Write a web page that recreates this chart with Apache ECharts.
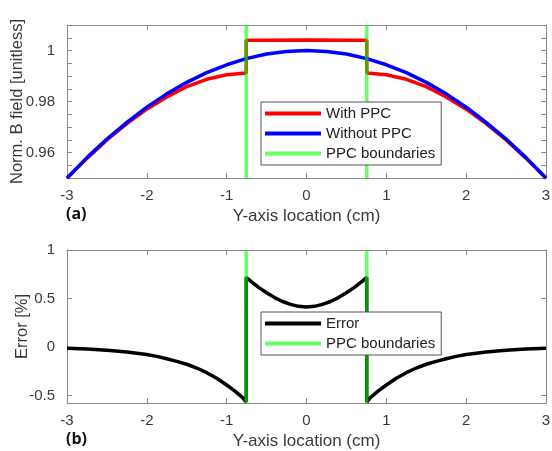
<!DOCTYPE html>
<html>
<head>
<meta charset="utf-8">
<script src="https://cdn.jsdelivr.net/npm/echarts@6/dist/echarts.min.js"></script>
<style>html,body{margin:0;padding:0;background:#fff}#c{width:552px;height:451px}</style>
</head>
<body>
<div id="c"></div>
<script>
// ---- data ----
const boundaryX = [-0.755, 0.755];
const topYRange = [0.95, 1.01];
const botYRange = [-0.575, 1];
const topYTicks = [0.96, 0.98, 1];
const botYTicks = [-0.5, 0, 0.5, 1];
const xTicks = [-3, -2, -1, 0, 1, 2, 3];

const blueX = [-3,-2.75,-2.5,-2.25,-2,-1.75,-1.5,-1.25,-1,-0.755,-0.5,-0.25,0,0.25,0.5,0.755,1,1.25,1.5,1.75,2,2.25,2.5,2.75,3];
const blueY = [0.950,0.958,0.9653,0.9718,0.9778,0.983,0.9875,0.9913,0.9944,0.9968,0.9986,0.9996,1.0,0.9996,0.9986,0.9968,0.9944,0.9913,0.9875,0.983,0.9778,0.9718,0.9653,0.958,0.950];

const redX = [-3,-2.75,-2.5,-2.25,-2,-1.75,-1.5,-1.25,-1,-0.755,-0.755,-0.5,0,0.5,0.755,0.755,1,1.25,1.5,1.75,2,2.25,2.5,2.75,3];
const redY = [0.9499,0.9577,0.9649,0.9713,0.9770,0.9818,0.9858,0.9887,0.9905,0.9912,1.0040,1.0040,1.0041,1.0040,1.0040,0.9912,0.9905,0.9887,0.9858,0.9818,0.9770,0.9713,0.9649,0.9577,0.9499];

const errX = [-3,-2.75,-2.5,-2.25,-2,-1.875,-1.75,-1.625,-1.5,-1.375,-1.25,-1.125,-1,-0.9,-0.8,-0.755,
              -0.755,-0.7,-0.6,-0.5,-0.4,-0.3,-0.2,-0.1,0,0.1,0.2,0.3,0.4,0.5,0.6,0.7,0.755,
              0.755,0.8,0.9,1,1.125,1.25,1.375,1.5,1.625,1.75,1.875,2,2.25,2.5,2.75,3];
const errY = [-0.012,-0.02,-0.032,-0.05,-0.075,-0.095,-0.12,-0.146,-0.176,-0.215,-0.263,-0.32,-0.39,-0.45,-0.52,-0.565,
              0.72,0.68,0.615,0.56,0.51,0.47,0.44,0.42,0.413,0.42,0.44,0.47,0.51,0.56,0.615,0.68,0.72,
              -0.565,-0.52,-0.45,-0.39,-0.32,-0.263,-0.215,-0.176,-0.146,-0.12,-0.095,-0.075,-0.05,-0.032,-0.02,-0.012];

// ---- chart ----
const zip = (xs, ys) => xs.map((x, i) => [x, ys[i]]);
const FONT = 'Liberation Sans';
const AX = '#8a8a8a', TXT = '#3a3a3a';
const GREEN = 'rgba(0,255,0,0.6)';

function xAxes(gi) {
  return [{
    type: 'value', gridIndex: gi, min: -3, max: 3, interval: 1,
    name: 'Y-axis location (cm)', nameLocation: 'middle', nameGap: 30, nameMoveOverlap: false,
    nameTextStyle: {fontFamily: FONT, fontSize: 17, color: TXT},
    axisLine: {onZero: false, lineStyle: {color: AX, width: 1}},
    axisTick: {inside: true, length: 5, lineStyle: {color: AX}},
    axisLabel: {fontFamily: FONT, fontSize: 15, color: TXT, margin: 10},
    splitLine: {show: false}
  }, {
    type: 'value', gridIndex: gi, position: 'top', min: -3, max: 3, interval: 1,
    axisLine: {onZero: false, lineStyle: {color: AX, width: 1}},
    axisTick: {inside: true, length: 5, lineStyle: {color: AX}},
    axisLabel: {show: false}, splitLine: {show: false}
  }];
}
function yAxes(gi, rng, ticks, name, gap, allTicks) {
  const fmt = v => String(+(+v).toFixed(3));
  return [{
    type: 'value', gridIndex: gi, min: rng[0], max: rng[1],
    name: name, nameLocation: 'middle', nameGap: gap, nameMoveOverlap: false,
    nameTextStyle: {fontFamily: FONT, fontSize: 16.5, color: TXT},
    axisLine: {onZero: false, lineStyle: {color: AX, width: 1}},
    axisTick: {inside: true, length: 5, lineStyle: {color: AX}, customValues: allTicks},
    axisLabel: {fontFamily: FONT, fontSize: 15, color: TXT, margin: 12, customValues: ticks, formatter: fmt},
    splitLine: {show: false}
  }, {
    type: 'value', gridIndex: gi, position: 'right', min: rng[0], max: rng[1],
    axisLine: {onZero: false, lineStyle: {color: AX, width: 1}},
    axisTick: {inside: true, length: 5, lineStyle: {color: AX}, customValues: allTicks},
    axisLabel: {show: false, customValues: ticks}, splitLine: {show: false}
  }];
}
const topMinor = [];
for (let k = 0; k <= 12; k++) topMinor.push(+(0.95 + k * 0.005).toFixed(3));

const lineBase = {type: 'line', showSymbol: false, symbol: 'none', animation: false, z: 3};
function boundarySeries(xi, yi, rng) {
  return boundaryX.map(bx => Object.assign({}, lineBase, {
    name: 'PPC boundaries', xAxisIndex: xi, yAxisIndex: yi,
    data: [[bx, rng[0]], [bx, rng[1]]],
    lineStyle: {color: GREEN, width: 3.5}, itemStyle: {color: '#66ff66'}
  }));
}

const chart = echarts.init(document.getElementById('c'), null, {renderer: 'canvas'});
chart.setOption({
  animation: false,
  backgroundColor: '#fff',
  grid: [
    {left: 67, right: 6, top: 25, height: 153, outerBoundsMode: 'none', containLabel: false},
    {left: 67, right: 6, top: 250, height: 153, outerBoundsMode: 'none', containLabel: false}
  ],
  xAxis: [...xAxes(0), ...xAxes(1)],
  yAxis: [
    ...yAxes(0, topYRange, topYTicks, 'Norm. B field [unitless]', 41, topMinor),
    ...yAxes(1, botYRange, botYTicks, 'Error [%]', 36, botYTicks)
  ],
  legend: [{
    left: 261, top: 102, orient: 'vertical', icon: 'rect', itemWidth: 56, itemHeight: 4,
    itemGap: 5, padding: [4, 6, 4, 4],
    borderColor: '#555', borderWidth: 1, backgroundColor: '#fff',
    textStyle: {fontFamily: FONT, fontSize: 15, color: '#222'},
    data: ['With PPC', 'Without PPC', 'PPC boundaries']
  }, {
    left: 261, top: 312, orient: 'vertical', icon: 'rect', itemWidth: 56, itemHeight: 4,
    itemGap: 5, padding: [4, 6, 4, 4],
    borderColor: '#555', borderWidth: 1, backgroundColor: '#fff',
    textStyle: {fontFamily: FONT, fontSize: 15, color: '#222'},
    data: ['Error', 'PPC boundaries']
  }],
  graphic: [
    {type: 'text', left: 66, top: 206, style: {text: '(a)', font: 'bold 16px "Open Sans"', fill: '#111'}},
    {type: 'text', left: 66, top: 431, style: {text: '(b)', font: 'bold 16px "Open Sans"', fill: '#111'}}
  ],
  series: [
    Object.assign({}, lineBase, {name: 'With PPC', xAxisIndex: 0, yAxisIndex: 0, data: zip(redX, redY),
      lineStyle: {color: '#ff0000', width: 3.5}, itemStyle: {color: '#ff0000'}}),
    Object.assign({}, lineBase, {name: 'Without PPC', xAxisIndex: 0, yAxisIndex: 0, data: zip(blueX, blueY),
      lineStyle: {color: '#0000ff', width: 3.5}, itemStyle: {color: '#0000ff'}}),
    ...boundarySeries(0, 0, topYRange),
    Object.assign({}, lineBase, {name: 'Error', xAxisIndex: 2, yAxisIndex: 2, data: zip(errX, errY),
      lineStyle: {color: '#000000', width: 3.5}, itemStyle: {color: '#000000'}}),
    ...boundarySeries(2, 2, botYRange)
  ]
});
</script>
</body>
</html>
